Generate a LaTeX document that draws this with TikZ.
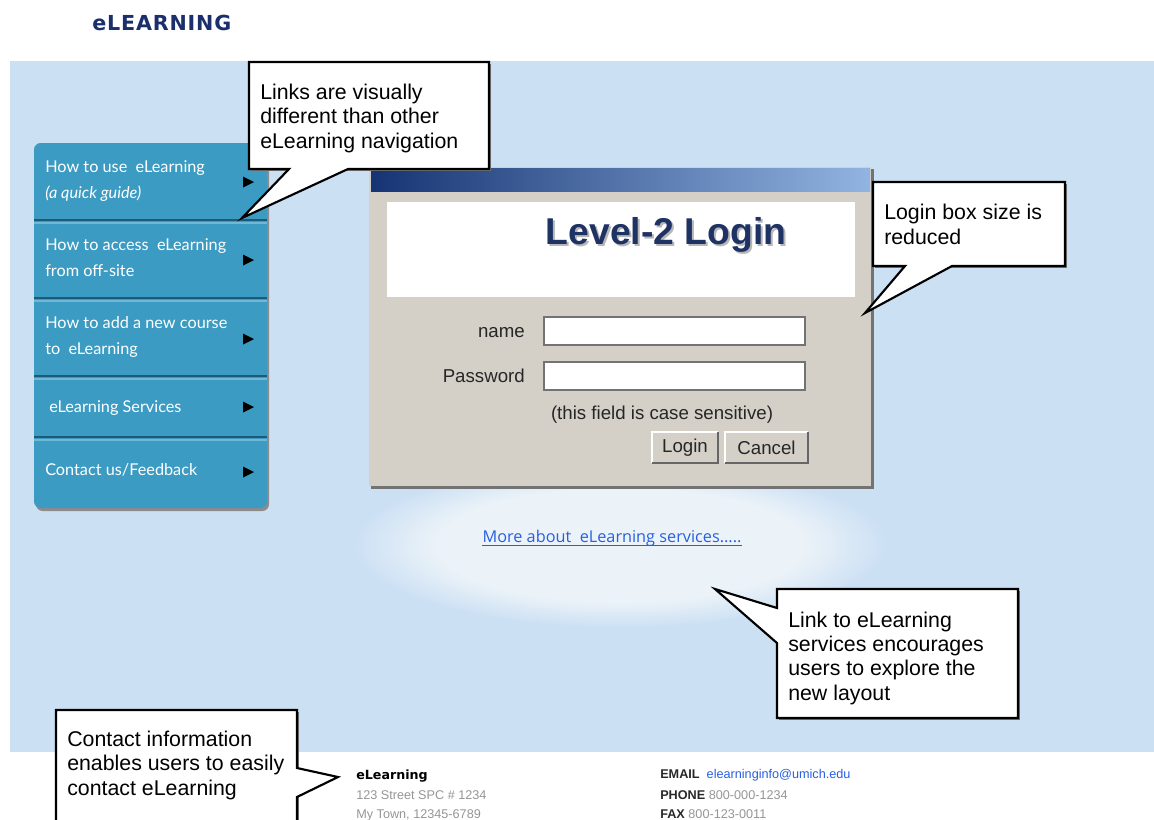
\documentclass[tikz,border=0pt]{standalone}
\usepackage{fontspec}
\setmainfont{Liberation Sans}
\newfontfamily\navfont{Lato}
\newfontfamily\headfont[LetterSpace=4]{DejaVu Sans}
\newfontfamily\verdfont{DejaVu Sans}
\newfontfamily\linkfont{Open Sans}
\definecolor{bgblue}{RGB}{204,224,244}
\definecolor{glowc}{RGB}{236,243,248}
\definecolor{navteal}{RGB}{59,155,194}
\definecolor{navdark}{RGB}{30,90,120}
\definecolor{navlight}{RGB}{110,185,215}
\definecolor{hdrnavy}{RGB}{26,47,107}
\definecolor{formgray}{RGB}{212,208,200}
\definecolor{barleft}{RGB}{22,52,115}
\definecolor{barright}{RGB}{145,180,225}
\definecolor{loginnavy}{RGB}{30,50,100}
\definecolor{linkblue}{RGB}{40,95,225}
\definecolor{footgray}{RGB}{150,150,150}
\definecolor{footdark}{RGB}{40,40,40}
\pgfdeclareradialshading{glow}{\pgfpoint{0bp}{0bp}}{color(0bp)=(glowc); color(17bp)=(glowc); color(25bp)=(bgblue); color(50bp)=(bgblue)}
\tikzset{
  navtext/.style={text=white, font=\navfont\fontsize{12.2}{14}\selectfont, anchor=base west, inner sep=0pt},
  navarrow/.style={fill=black},
  formtext/.style={font=\fontsize{14}{16}\selectfont, text=black!85, inner sep=0pt},
  fieldbox/.style={fill=white, draw=black!55, line width=1.5},
  callout/.style={fill=white, draw=black, line width=1.6, line join=miter},
  calloutshadow/.style={fill=black!55},
  callouttext/.style={font=\fontsize{16}{18.2}\selectfont, anchor=base west, align=left, inner sep=0pt},
  foot/.style={font=\fontsize{9.5}{11}\selectfont, anchor=base west, inner sep=0pt, text=footgray},
}
\begin{document}
\begin{tikzpicture}[x=0.75pt,y=-0.75pt]
\useasboundingbox (0,0) rectangle (1154,819);
\fill[white] (0,0) rectangle (1154,819);
% header
\node[anchor=base west, inner sep=0pt, text=hdrnavy, font=\headfont\bfseries\fontsize{15.5}{18}\selectfont] (title) at (92,30) {eLEARNING};
% background panel
\fill[bgblue] (10,61) rectangle (1154,752);
% glow
\shade[shading=glow] (620,545) ellipse (200pt and 62pt);

% navigation panel
\fill[black!45, rounded corners=5] (36,146) rectangle (269,511);
\fill[navteal, rounded corners=5] (34,143) rectangle (267,508);
\foreach \yy in {220,298,376,437}{
  \draw[navdark, line width=2] (34,\yy) -- (267,\yy);
  \draw[navlight, line width=1.5] (34,\yy+3) -- (267,\yy+3);
}
\node[navtext] (n1a) at (45,172) {How to use\ \ eLearning};
\node[navtext, font=\navfont\itshape\fontsize{12.2}{14}\selectfont] (n1b) at (45,198) {(a quick guide)};
\node[navtext] (n2a) at (45,250) {How to access\ \ eLearning};
\node[navtext] (n2b) at (45,276) {from off-site};
\node[navtext] (n3a) at (45,328) {How to add a new course};
\node[navtext] (n3b) at (45,354) {to\ \ eLearning};
\node[navtext] (n4a) at (49,412) {eLearning Services};
\node[navtext] (n5a) at (45,475) {Contact us/Feedback};
\foreach \yy in {182,260,339,407,472}{
  \fill[navarrow] (243,\yy-5.5) -- (254,\yy) -- (243,\yy+5.5) -- cycle;
}

% login box
\fill[black!55] (371,169) rectangle (874,489);
\fill[formgray] (369,167) rectangle (871,486);
\shade[left color=barleft, right color=barright] (371,168) rectangle (870,191);
\fill[white] (387,202) rectangle (855,297);
\node[font=\bfseries\fontsize{28}{30}\selectfont, text=black!35, opacity=0.8, inner sep=0pt] (lvlshadow) at (668,237) {Level-2 Login};
\node[font=\bfseries\fontsize{28}{30}\selectfont, text=loginnavy, inner sep=0pt] (lvl) at (666,235) {Level-2 Login};
\node[formtext, anchor=base east] (lname) at (525,337) {name};
\node[formtext, anchor=base east] (lpass) at (525,382) {Password};
\draw[fieldbox] (544,317) rectangle (805,345);
\node[inner sep=0pt] (fname) at (674.5,331) {};
\draw[fieldbox] (544,362) rectangle (805,390);
\node[inner sep=0pt] (fpass) at (674.5,376) {};
\node[formtext] (case) at (662,415) {(this field is case sensitive)};
\fill[formgray] (652,432) rectangle (718,463);
\draw[white, line width=1.2] (652,463) -- (652,432) -- (718,432);
\draw[black!60, line width=1.5] (652,463) -- (718,463) -- (718,432);
\node[formtext] (blogin) at (685,448) {Login};
\fill[formgray] (725,432) rectangle (808,463);
\draw[white, line width=1.2] (725,463) -- (725,432) -- (808,432);
\draw[black!60, line width=1.5] (725,463) -- (808,463) -- (808,432);
\node[formtext] (bcancel) at (766.5,448) {Cancel};

% link
\node[anchor=base, inner sep=0pt, text=linkblue, font=\linkfont\fontsize{12.2}{14}\selectfont] (link) at (612,542) {More about\ \ eLearning services.....};
\draw[linkblue, line width=0.9] ([yshift=-2.5pt]link.base west) -- ([yshift=-2.5pt]link.base east);

% callout 1
\fill[calloutshadow] (251,64) rectangle (491,171);
\filldraw[callout] (249,62) -- (489,62) -- (489,169) -- (348,169) -- (242,218) -- (289,169) -- (249,169) -- cycle;
\node[callouttext] (c1) at (260,148) {Links are visually\\different than other\\eLearning navigation};

% callout 2
\fill[calloutshadow] (875,184) rectangle (1067,268);
\filldraw[callout] (873,182) -- (1065,182) -- (1065,266) -- (952,266) -- (865,313) -- (905,266) -- (873,266) -- cycle;
\node[callouttext] (c2) at (884,244) {Login box size is\\reduced};

% callout 3
\fill[calloutshadow] (779,591) rectangle (1020,720);
\filldraw[callout] (777,589) -- (1018,589) -- (1018,718) -- (777,718) -- (777,643) -- (715,589) -- (777,608) -- cycle;
\node[callouttext] (c3) at (788,700) {Link to eLearning\\services encourages\\users to explore the\\new layout};

% callout 4
\fill[calloutshadow] (58,712) rectangle (299,827);
\filldraw[callout] (56,710) -- (297,710) -- (297,768) -- (338,777) -- (297,797) -- (297,825) -- (56,825) -- cycle;
\node[callouttext] (c4) at (67,795) {Contact information\\enables users to easily\\contact eLearning};

% footer
\node[foot, text=black, font=\verdfont\bfseries\fontsize{9.5}{11}\selectfont] (fe) at (356,779) {eLearning};
\node[foot] (fa1) at (356,799) {123 Street SPC \# 1234};
\node[foot] (fa2) at (356,818) {My Town, 12345-6789};
\node[foot] (fem) at (660,778) {\textcolor{footdark}{\bfseries EMAIL}\ \ \textcolor{linkblue}{elearninginfo@umich.edu}};
\node[foot] (fph) at (660,799) {\textcolor{footdark}{\bfseries PHONE} 800-000-1234};
\node[foot] (ffx) at (660,818) {\textcolor{footdark}{\bfseries FAX} 800-123-0011};
\end{tikzpicture}
\end{document}
